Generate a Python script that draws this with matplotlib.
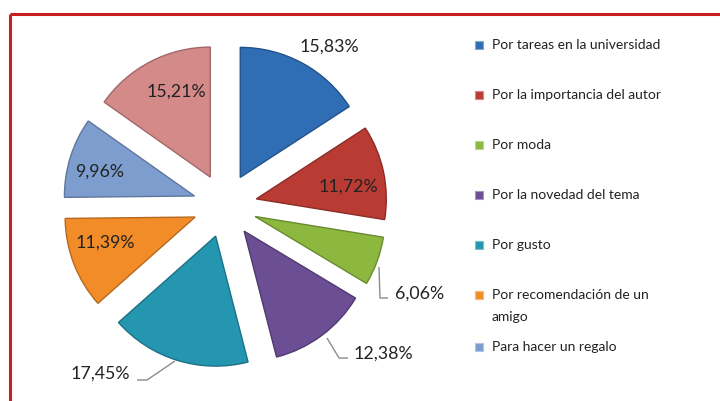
import matplotlib
matplotlib.use("Agg")
import matplotlib.pyplot as plt
from matplotlib.colors import to_rgb

categories = [
    "Por tareas en la universidad",
    "Por la importancia del autor",
    "Por moda",
    "Por la novedad del tema",
    "Por gusto",
    "Por recomendación de un\namigo",
    "Para hacer un regalo",
    "Otros",
]
values = [15.83, 11.72, 6.06, 12.38, 17.45, 11.39, 9.96, 15.21]
value_labels = ["15,83%", "11,72%", "6,06%", "12,38%", "17,45%", "11,39%", "9,96%", "15,21%"]
colors = ["#2F6DB5", "#BA3B33", "#8DB83F", "#6B4E94", "#2596B0", "#F28C28", "#7E9DCF", "#D58A8A"]
legend_count = 7  # the last category is cut off in the original legend

W, H = 720, 401
fig = plt.figure(figsize=(W / 100, H / 100), dpi=100)
ax = fig.add_axes([0, 0, 1, 1])


def Y(y_img):
    return H - y_img


cx, cy = 225, Y(205.5)
R = 130
EXPL = 32

wedges, _ = ax.pie(values, colors=colors, startangle=90, counterclock=False,
                   radius=R, center=(cx, cy), explode=[EXPL] * len(values),
                   frame=True)
for w, c in zip(wedges, colors):
    r, g, b = to_rgb(c)
    w.set_edgecolor((r * 0.75, g * 0.75, b * 0.75))
    w.set_linewidth(1.0)

ax.set_xlim(0, W)
ax.set_ylim(0, H)
ax.set_aspect("equal")
ax.axis("off")

lab_font = dict(family=["Lato", "DejaVu Sans"], fontsize=12.8, color="#222222")

# label layout: text centers in image pixels
label_pos = [(329, 47), (348, 187), (420, 294), (383, 354),
             (100, 374), (105, 243), (100, 172), (176, 92)]
for txt, (lx, ly) in zip(value_labels, label_pos):
    ax.text(lx, Y(ly), txt, ha="center", va="center", **lab_font)

# leader lines (image pixel paths)
leaders = [
    [(379, 267), (380, 298), (388, 298)],
    [(327, 338), (339, 358), (348, 358)],
    [(175, 361), (147, 380), (137, 380)],
]
for path in leaders:
    ax.plot([p[0] for p in path], [Y(p[1]) for p in path],
            color="#8C8C8C", lw=1.0, solid_capstyle="butt")

# legend
leg_font = dict(family=["Lato", "DejaVu Sans"], fontsize=10.0, color="#222222")
leg_y = [45, 95, 145, 195, 245, 295, 347]
line_step = 22
for i in range(legend_count):
    yy = Y(leg_y[i])
    c = colors[i]
    r, g, b = to_rgb(c)
    ax.scatter([479], [yy], marker="s", s=38, color=c,
               edgecolors=[(r * 0.6 + 0.4, g * 0.6 + 0.4, b * 0.6 + 0.4)],
               linewidths=0.8, zorder=5)
    for k, line in enumerate(categories[i].split("\n")):
        ax.text(492, yy - k * line_step, line, ha="left", va="center", **leg_font)

# red frame (top and left visible)
frame_col = "#C8201E"
ax.plot([10, W + 5], [Y(14), Y(14)], color=frame_col, lw=2.2, solid_capstyle="butt")
ax.plot([10, 10], [Y(14), -5], color=frame_col, lw=2.2, solid_capstyle="butt")

fig.savefig("out.png", dpi=100)
